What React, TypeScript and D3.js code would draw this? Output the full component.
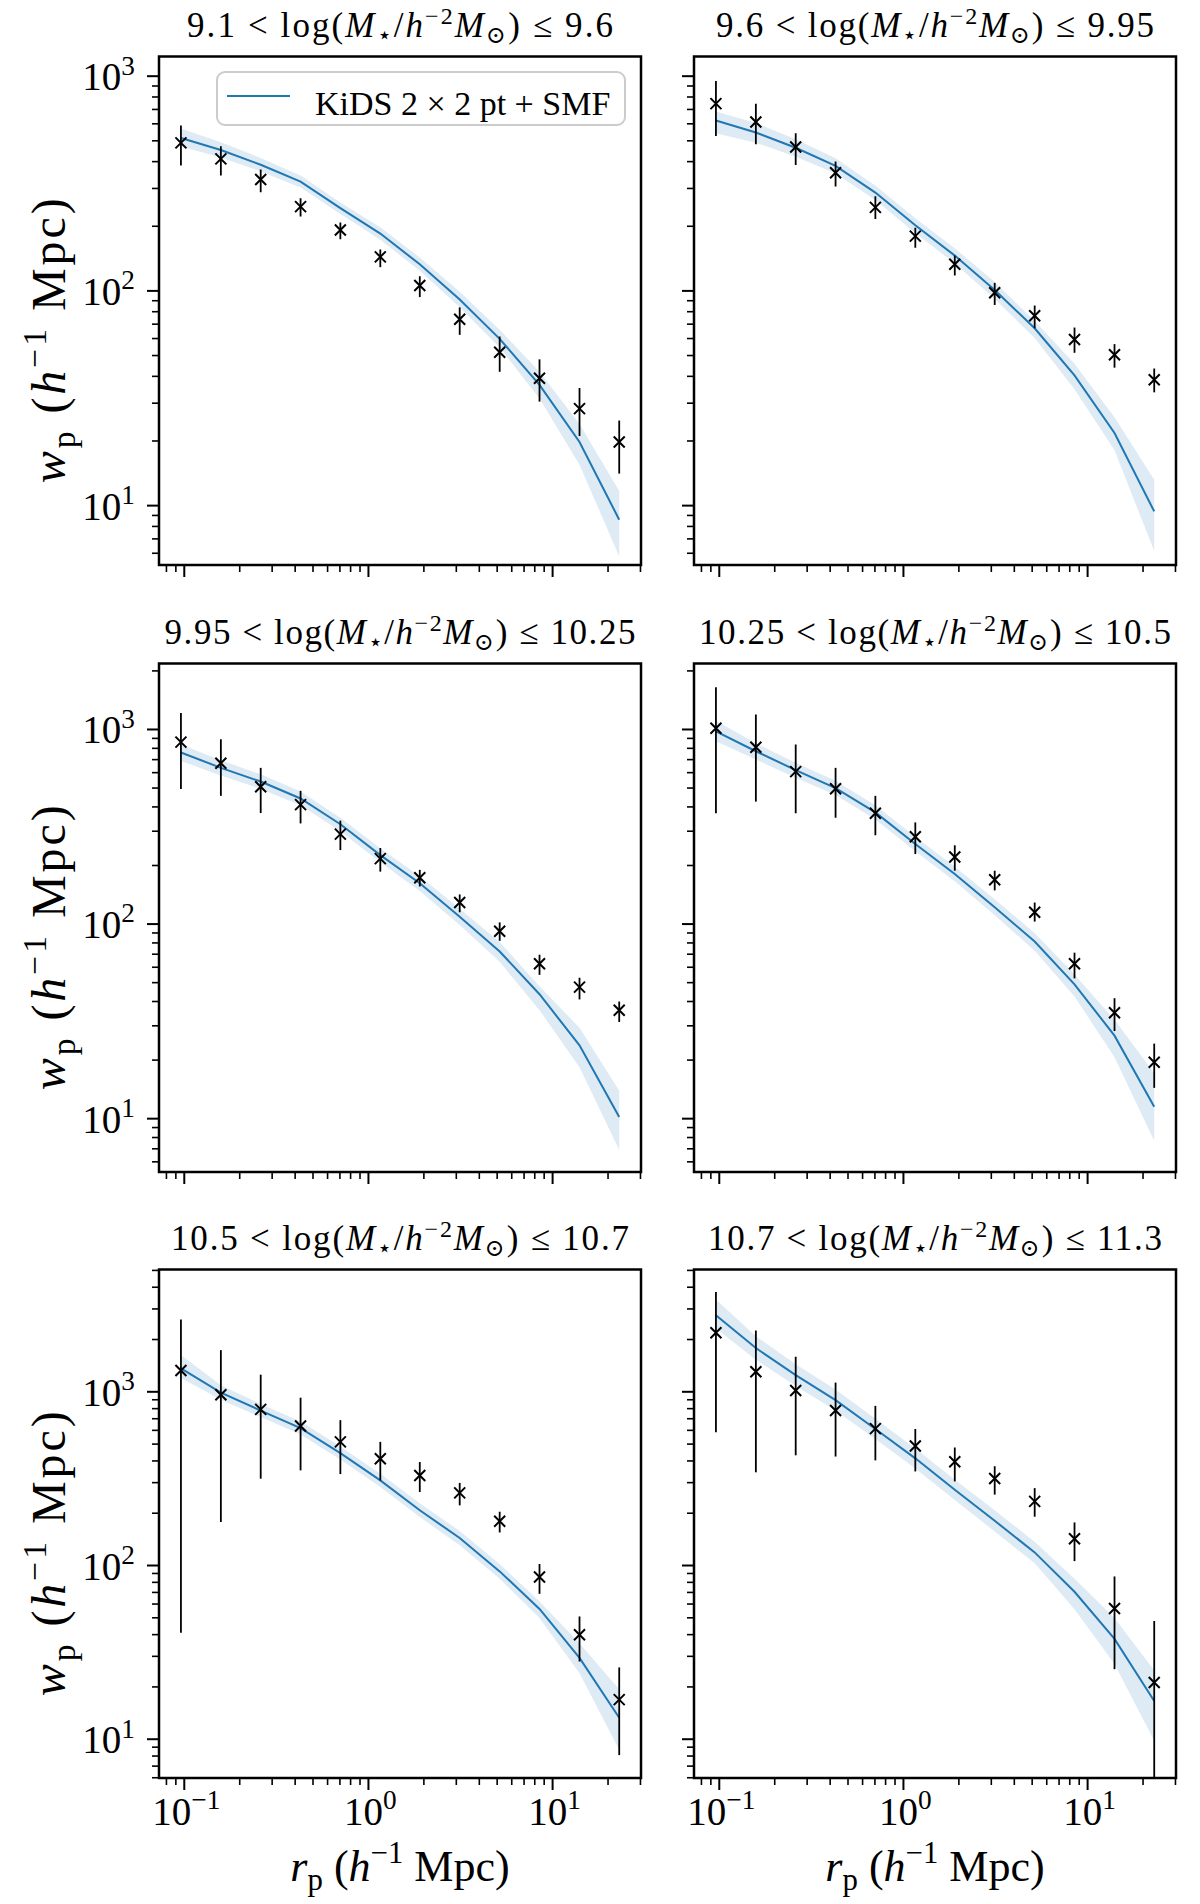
import * as d3 from 'd3';

// projected separation bins (h^-1 Mpc), shared by every panel
const RP = [0.0959, 0.158, 0.26, 0.428, 0.704, 1.16, 1.9, 3.13, 5.16, 8.49, 14.0, 23.0];

// stellar-mass bin edges, log(M*/h^-2 Msun)
const BIN_EDGES = ['9.1', '9.6', '9.95', '10.25', '10.5', '10.7', '11.3'];

// measured w_p with error bar ends
const WP_1 = [489, 412, 330, 247, 192, 144, 106, 73.8, 51.8, 39.2, 28.3, 19.8];
const WP_1_HI = [590, 472, 368, 270, 208, 156, 117, 83.8, 61.3, 48, 35.3, 24.9];
const WP_1_LO = [384, 345, 288, 222, 174, 129, 93.6, 62.4, 42, 30.5, 21.1, 14.1];

const WP_2 = [745, 612, 468, 355, 245, 180, 133, 98, 76.6, 59.4, 50.4, 38.6];
const WP_2_HI = [950, 745, 542, 401, 276, 197, 146, 109, 85.5, 67.5, 56.5, 43.5];
const WP_2_LO = [526, 482, 386, 306, 216, 159, 118, 86, 67, 51.5, 43.9, 33.7];

const WP_3 = [861, 671, 508, 411, 290, 217, 173, 129, 91.9, 62.5, 47.4, 36.1];
const WP_3_HI = [1217, 890, 635, 484, 340, 246, 190, 142, 102, 69.6, 53, 40];
const WP_3_LO = [495, 456, 372, 329, 240, 186, 156, 115, 82, 54.8, 41, 31.4];

const WP_4 = [1014, 811, 607, 496, 371, 281, 221, 169, 115, 62.5, 35, 19.5];
const WP_4_HI = [1649, 1194, 837, 635, 456, 333, 254, 188, 129, 71.3, 41.6, 24.3];
const WP_4_LO = [371, 426, 371, 352, 286, 229, 188, 149, 103, 52.6, 28.2, 14.4];

const WP_5 = [1326, 962, 792, 635, 515, 412, 330, 262, 180, 85.8, 39.9, 16.9];
const WP_5_HI = [2606, 1738, 1255, 925, 687, 515, 394, 299, 204, 102, 50.9, 25.9];
const WP_5_LO = [41, 178, 316, 353, 336, 309, 265, 222, 155, 68.7, 28, 8.1];

const WP_6 = [2188, 1306, 1017, 780, 614, 488, 396, 317, 234, 142.6, 56.6, 21.2];
const WP_6_HI = [3750, 2253, 1592, 1130, 830, 611, 478, 373, 279, 177, 86.5, 47.9];
const WP_6_LO = [586, 344, 431, 424, 403, 348, 305, 256, 191, 106, 25.3, 1];

// KiDS 2x2pt + SMF model: median and band
const FIT_1 = [515, 453, 387, 323, 243, 185, 133, 91.2, 59.8, 36.5, 19.8, 8.6];
const FIT_1_LO = [470, 418, 360, 303, 228, 173, 124, 84, 54.5, 31.5, 15.5, 5.8];
const FIT_1_HI = [570, 492, 416, 345, 258, 198, 143, 99, 66, 42, 24, 11.7];

const FIT_2 = [622, 547, 464, 382, 287, 202, 146, 101, 67, 40.4, 21.8, 9.4];
const FIT_2_LO = [542, 490, 422, 352, 265, 186, 134, 92, 60.3, 34.8, 18.1, 6.15];
const FIT_2_HI = [684, 605, 508, 415, 310, 218, 158, 110, 72.5, 45.8, 25.8, 13.2];

const FIT_3 = [762, 635, 540, 442, 326, 226, 162, 109, 72.3, 43.6, 23.8, 10.2];
const FIT_3_LO = [689, 580, 495, 408, 300, 208, 148, 99, 64, 36.1, 18.4, 6.9];
const FIT_3_HI = [837, 695, 588, 480, 352, 245, 176, 120, 81, 47.9, 29.3, 13.9];

const FIT_4 = [977, 773, 618, 500, 375, 258, 181, 122, 81.3, 49, 26.7, 11.5];
const FIT_4_LO = [869, 700, 565, 460, 345, 237, 166, 111, 73, 42.5, 20.7, 7.7];
const FIT_4_HI = [1109, 850, 675, 545, 408, 281, 197, 134, 90, 55, 32.2, 17.1];

const FIT_5 = [1365, 989, 780, 618, 444, 309, 208, 144, 92.5, 56.2, 29.4, 13.3];
const FIT_5_LO = [1200, 900, 715, 568, 408, 283, 190, 131, 84, 49.8, 24, 8.7];
const FIT_5_HI = [1630, 1090, 850, 675, 485, 338, 228, 158, 102, 62, 35.7, 19.4];

const FIT_6 = [2761, 1786, 1247, 896, 611, 414, 273, 181, 119, 70.6, 37.8, 16.6];
const FIT_6_LO = [2317, 1530, 1080, 780, 535, 362, 238, 157, 103, 56, 27.1, 9.8];
const FIT_6_HI = [3396, 2090, 1440, 1030, 700, 472, 312, 208, 137, 84, 49.9, 24.9];

const PANELS = [
  { wp: WP_1, hi: WP_1_HI, lo: WP_1_LO, fit: FIT_1, fitLo: FIT_1_LO, fitHi: FIT_1_HI },
  { wp: WP_2, hi: WP_2_HI, lo: WP_2_LO, fit: FIT_2, fitLo: FIT_2_LO, fitHi: FIT_2_HI },
  { wp: WP_3, hi: WP_3_HI, lo: WP_3_LO, fit: FIT_3, fitLo: FIT_3_LO, fitHi: FIT_3_HI },
  { wp: WP_4, hi: WP_4_HI, lo: WP_4_LO, fit: FIT_4, fitLo: FIT_4_LO, fitHi: FIT_4_HI },
  { wp: WP_5, hi: WP_5_HI, lo: WP_5_LO, fit: FIT_5, fitLo: FIT_5_LO, fitHi: FIT_5_HI },
  { wp: WP_6, hi: WP_6_HI, lo: WP_6_LO, fit: FIT_6, fitLo: FIT_6_LO, fitHi: FIT_6_HI },
];

// axis limits (x shared, y shared per row)
const X_LIMITS: [number, number] = [0.0729, 30.2];
const Y_LIMITS: [number, number][] = [
  [5.29, 1235],
  [5.32, 2183],
  [5.98, 5060],
];

const LEGEND_LABEL = 'KiDS 2 × 2 pt + SMF';

const W = 1200;
const H = 1904;
const COL_X = [159, 694];
const ROW_Y = [56.5, 663.5, 1269.5];
const PW = 482;
const PH = 508.5;
const TITLE_W = [426, 438, 471, 472, 458, 454];
const BLUE = '#1f77b4';
const SERIF = "'Liberation Serif', 'DejaVu Serif', serif";

const isDecade = (v: number) => Math.abs(Math.log10(v) - Math.round(Math.log10(v))) < 1e-6;

function Pow10({ x, y, v, anchor, size }: { x: number; y: number; v: number; anchor: string; size: number }) {
  const e = Math.round(Math.log10(v));
  const sup = size * 0.7;
  return (
    <text x={x} y={y} textAnchor={anchor} fontSize={size} fontFamily={SERIF}>
      10
      <tspan dy={-size * 0.4} fontSize={sup}>
        {e < 0 ? `−${-e}` : `${e}`}
      </tspan>
    </text>
  );
}

function Title({ cx, y, lo, hi, len }: { cx: number; y: number; lo: string; hi: string; len: number }) {
  const s = 35;
  const small = 24;
  return (
    <text
      x={cx}
      y={y}
      textAnchor="middle"
      fontSize={s}
      fontFamily={SERIF}
      textLength={len}
      lengthAdjust="spacing"
    >
      {`${lo} < log(`}
      <tspan fontStyle="italic">M</tspan>
      <tspan dy={6} fontSize={small}>⋆</tspan>
      <tspan dy={-6}>/</tspan>
      <tspan fontStyle="italic">h</tspan>
      <tspan dy={-13} fontSize={small}>−2</tspan>
      <tspan dy={13} fontStyle="italic">M</tspan>
      <tspan dy={6} fontSize={small}>⊙</tspan>
      <tspan dy={-6}>{`) ≤ ${hi}`}</tspan>
    </text>
  );
}

function AxisLabel({
  sym,
  x,
  y,
  rotate,
  size,
  len,
}: {
  sym: string;
  x: number;
  y: number;
  rotate: boolean;
  size: number;
  len?: number;
}) {
  const sub = size * 0.7;
  return (
    <text
      transform={`translate(${x},${y})${rotate ? ' rotate(-90)' : ''}`}
      textAnchor="middle"
      fontSize={size}
      fontFamily={SERIF}
      textLength={len}
      lengthAdjust={len ? 'spacing' : undefined}
    >
      <tspan fontStyle="italic">{sym}</tspan>
      <tspan dy={size * 0.2} fontSize={sub}>p</tspan>
      <tspan dy={-size * 0.2}>{' ('}</tspan>
      <tspan fontStyle="italic">h</tspan>
      <tspan dy={-size * 0.4} fontSize={sub}>−1</tspan>
      <tspan dy={size * 0.4}>{' Mpc)'}</tspan>
    </text>
  );
}

function Panel({ idx }: { idx: number }) {
  const row = Math.floor(idx / 2);
  const col = idx % 2;
  const x0 = COL_X[col];
  const y0 = ROW_Y[row];
  const p = PANELS[idx];

  const x = d3.scaleLog().domain(X_LIMITS).range([0, PW]);
  const y = d3.scaleLog().domain(Y_LIMITS[row]).range([PH, 0]);

  const band = d3
    .area<number>()
    .x((_, i) => x(RP[i]))
    .y0((_, i) => y(p.fitLo[i]))
    .y1((_, i) => y(p.fitHi[i]));
  const line = d3
    .line<number>()
    .x((_, i) => x(RP[i]))
    .y((d) => y(d));

  const xt = x.ticks();
  const yt = y.ticks();
  const clipId = `clip-${idx}`;
  const mk = 5.5;

  return (
    <g transform={`translate(${x0},${y0})`}>
      <defs>
        <clipPath id={clipId}>
          <rect x={0} y={0} width={PW} height={PH} />
        </clipPath>
      </defs>
      <g clipPath={`url(#${clipId})`}>
        <path d={band(p.fit) || ''} fill={BLUE} fillOpacity={0.15} />
        <path d={line(p.fit) || ''} fill="none" stroke={BLUE} strokeWidth={2} />
        {p.wp.map((v, i) => (
          <g key={i} stroke="#000">
            <line x1={x(RP[i])} x2={x(RP[i])} y1={y(p.hi[i])} y2={y(p.lo[i])} strokeWidth={1.8} />
            <path
              transform={`translate(${x(RP[i])},${y(v)})`}
              d={`M${-mk},${-mk}L${mk},${mk}M${-mk},${mk}L${mk},${-mk}`}
              strokeWidth={2}
            />
          </g>
        ))}
      </g>

      {/* y ticks */}
      {yt.map((t, i) => {
        const major = isDecade(t);
        return (
          <line
            key={`y${i}`}
            x1={0}
            x2={major ? -12 : -7}
            y1={y(t)}
            y2={y(t)}
            stroke="#000"
            strokeWidth={major ? 2 : 1.6}
          />
        );
      })}
      {col === 0 &&
        yt.filter(isDecade).map((t, i) => (
          <Pow10 key={`yl${i}`} x={-24} y={y(t) + 14} v={t} anchor="end" size={39} />
        ))}

      {/* x ticks */}
      {xt.map((t, i) => {
        const major = isDecade(t);
        return (
          <line
            key={`x${i}`}
            y1={PH}
            y2={PH + (major ? 12 : 7)}
            x1={x(t)}
            x2={x(t)}
            stroke="#000"
            strokeWidth={major ? 2 : 1.6}
          />
        );
      })}
      {row === 2 &&
        xt.filter(isDecade).map((t, i) => (
          <Pow10 key={`xl${i}`} x={x(t) + 2} y={PH + 47} v={t} anchor="middle" size={39} />
        ))}

      <rect x={0} y={0} width={PW} height={PH} fill="none" stroke="#000" strokeWidth={2.5} />

      <Title cx={PW / 2} y={-19.5} lo={BIN_EDGES[idx]} hi={BIN_EDGES[idx + 1]} len={TITLE_W[idx]} />

      {col === 0 && <AxisLabel sym="w" x={65 - x0} y={PH / 2 + 30} rotate={true} size={48} len={285} />}
      {row === 2 && <AxisLabel sym="r" x={PW / 2} y={PH + 103} rotate={false} size={44} />}

      {idx === 0 && (
        <g>
          <rect x={58} y={15.5} width={408} height={53} rx={8} fill="#fff" fillOpacity={0.8} stroke="#cccccc" strokeWidth={2} />
          <line x1={68} x2={131} y1={39.5} y2={39.5} stroke={BLUE} strokeWidth={2} />
          <text x={156} y={58.5} fontSize={34} fontFamily={SERIF}>
            {LEGEND_LABEL}
          </text>
        </g>
      )}
    </g>
  );
}

export default function App() {
  return (
    <svg
      width={W}
      height={H}
      viewBox={`0 0 ${W} ${H}`}
      style={{ position: 'absolute', left: 0, top: 0, background: '#fff' }}
    >
      <rect width={W} height={H} fill="#fff" />
      {PANELS.map((_, i) => (
        <Panel key={i} idx={i} />
      ))}
    </svg>
  );
}
